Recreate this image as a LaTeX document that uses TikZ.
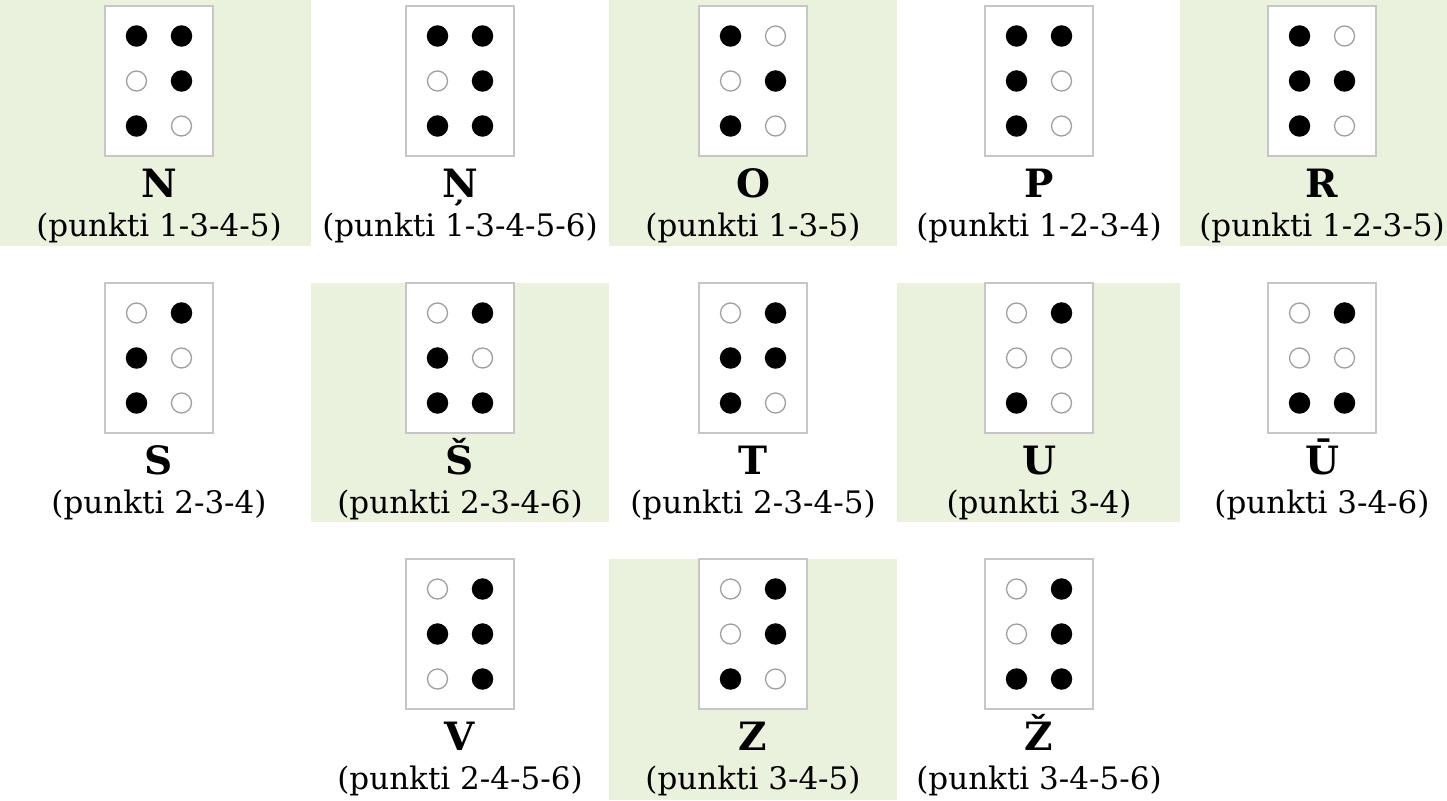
\documentclass[tikz,border=0pt]{standalone}
\usepackage{fontspec}
\setmainfont{DejaVu Serif}
\usetikzlibrary{positioning,calc}
\definecolor{cellgreen}{HTML}{EAF1DD}
\begin{document}
\begin{tikzpicture}[x=1pt,y=-1pt,
  card/.style={draw=gray!45,fill=white,line width=1.2pt,minimum width=108pt,minimum height=150pt,inner sep=0pt},
  pin/.style={circle,draw=gray!75,fill=white,line width=1.3pt,minimum size=20pt,inner sep=0pt},
  pinon/.style={pin,draw=black,fill=black},
  letter/.style={font=\bfseries\fontsize{39}{42}\selectfont,anchor=base,inner sep=0pt},
  caption/.style={font=\fontsize{31}{36}\selectfont,anchor=base,inner sep=0pt}]
\useasboundingbox (0,0) rectangle (1447,800);
% column / row / letter / raised dots / caption
\foreach \c/\r/\ltr/\pts/\txt [count=\i] in {
  0/0/N/{1,3,4,5}/1-3-4-5, 1/0/Ņ/{1,3,4,5,6}/1-3-4-5-6, 2/0/O/{1,3,5}/1-3-5,
  3/0/P/{1,2,3,4}/1-2-3-4, 4/0/R/{1,2,3,5}/1-2-3-5,
  0/1/S/{2,3,4}/2-3-4, 1/1/Š/{2,3,4,6}/2-3-4-6, 2/1/T/{2,3,4,5}/2-3-4-5,
  3/1/U/{3,4}/3-4, 4/1/Ū/{3,4,6}/3-4-6,
  1/2/V/{2,4,5,6}/2-4-5-6, 2/2/Z/{3,4,5}/3-4-5, 3/2/Ž/{3,4,5,6}/3-4-5-6}{
  \pgfmathsetmacro\cx{{159,460,753,1039,1322}[\c]}
  \pgfmathsetmacro\cl{{0,311,609,897,1180}[\c]}
  \pgfmathsetmacro\cr{{311,609,897,1180,1447}[\c]}
  \pgfmathsetmacro\rt{{0,283,559}[\r]}
  \pgfmathsetmacro\rb{{246,522,800}[\r]}
  \pgfmathsetmacro\bt{{6,283,559}[\r]}
  \pgfmathtruncatemacro\shade{mod(\c+\r,2)}
  \ifnum\shade=0 \fill[cellgreen] (\cl,\rt) rectangle (\cr,\rb); \fi
  \node[card] (card\i) at (\cx,\bt+75) {};
  \foreach \k in {1,...,6}{
    \pgfmathsetmacro\dx{\k>3 ? 22.5 : -22.5}
    \pgfmathsetmacro\dy{45*(mod(\k-1,3)-1)}
    \node[pin] (pin\i-\k) at ($(card\i.center)+(\dx,\dy)$) {};
  }
  \foreach \k in \pts{\node[pinon] (on\i-\k) at (pin\i-\k) {};}
  \node[letter] (ltr\i) at ($(card\i.south)+(0,41)$) {\ltr};
  \node[caption] (cap\i) at ($(card\i.south)+(0,80)$) {(punkti \txt)};
}
\end{tikzpicture}
\end{document}
